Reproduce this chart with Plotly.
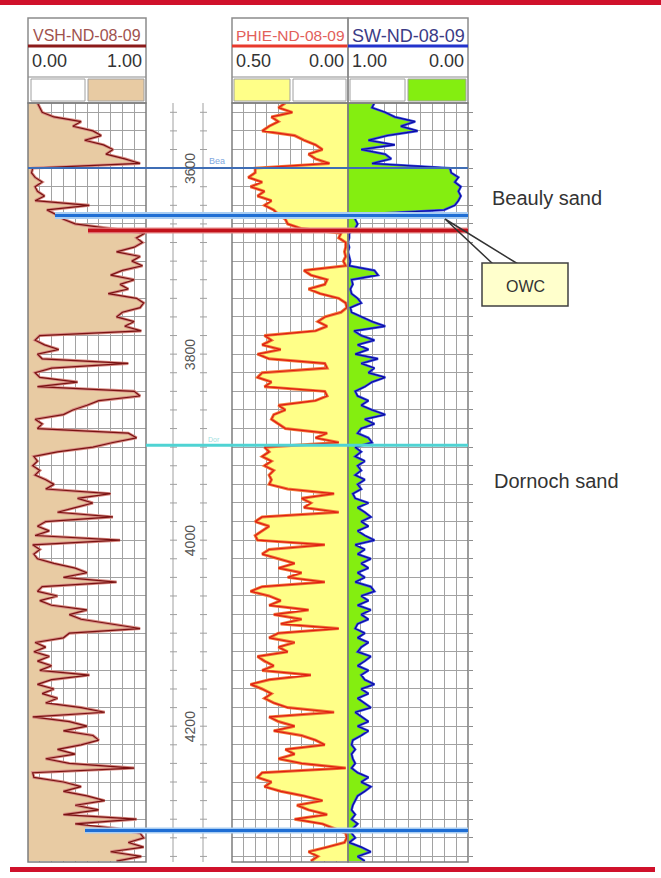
import plotly.graph_objects as go

W, H = 661, 878

# ---------------- data ----------------
depth_m = list(range(3530, 4346, 5))  # sample depths, 5 m step

vsh = [0.08, 0.10, 0.12, 0.22, 0.45, 0.38, 0.55, 0.62, 0.48, 0.64, 0.72, 0.66, 0.82, 0.95,
       0.04, 0.03, 0.06, 0.12, 0.06, 0.08, 0.14, 0.06, 0.52, 0.16, 0.24, 0.30, 0.40, 0.70, 0.99,
       0.92, 0.97, 0.90, 0.75, 0.95, 0.88, 0.97, 0.80, 0.70, 0.90, 0.78, 0.85, 0.68, 0.92, 0.98,
       0.95, 0.80, 0.75, 0.90, 0.82, 0.96,
       0.10, 0.06, 0.14, 0.26, 0.08, 0.12, 0.85, 0.20, 0.06, 0.10, 0.42, 0.08,
       0.90, 0.95, 0.60, 0.50, 0.38, 0.30, 0.06, 0.12, 0.08, 0.85, 0.92, 0.72, 0.55, 0.25,
       0.05, 0.08, 0.04, 0.10, 0.06, 0.15,
       0.22, 0.15, 0.70, 0.42, 0.55, 0.40, 0.25, 0.72, 0.15, 0.08, 0.18, 0.06, 0.78, 0.04,
       0.10, 0.05, 0.08, 0.22, 0.40, 0.50, 0.30, 0.75, 0.12, 0.08, 0.25, 0.10, 0.20, 0.50,
       0.35, 0.45, 0.70, 0.95, 0.35, 0.30, 0.06, 0.15, 0.05, 0.18, 0.08, 0.20, 0.10, 0.52,
       0.20, 0.08, 0.22, 0.12, 0.25, 0.15, 0.45, 0.65, 0.04, 0.35, 0.50, 0.30, 0.55, 0.60,
       0.45, 0.25, 0.40, 0.15, 0.35, 0.90, 0.04, 0.05, 0.30, 0.45, 0.30, 0.50, 0.65, 0.40,
       0.60, 0.30, 0.92, 0.40, 0.75, 0.95, 0.98, 0.85, 0.98, 0.70, 0.96, 0.75]

phie = [0.27, 0.30, 0.24, 0.33, 0.30, 0.34, 0.37, 0.23, 0.19, 0.14, 0.11, 0.17, 0.14, 0.08,
        0.40, 0.40, 0.43, 0.37, 0.42, 0.36, 0.39, 0.33, 0.36, 0.32, 0.30, 0.27, 0.26, 0.20, 0.03,
        0.04, 0.01, 0.01, 0.015, 0.01, 0.02, 0.01, 0.19, 0.16, 0.09, 0.10, 0.17, 0.12, 0.04,
        0.01, 0.005, 0.03, 0.10, 0.13, 0.09, 0.14,
        0.36, 0.33, 0.37, 0.29, 0.39, 0.34, 0.10, 0.09, 0.37, 0.39, 0.33, 0.36,
        0.10, 0.09, 0.14, 0.30, 0.27, 0.32, 0.33, 0.30, 0.27, 0.09, 0.14, 0.04, 0.36, 0.34,
        0.37, 0.33, 0.36, 0.32, 0.34, 0.33,
        0.34, 0.26, 0.06, 0.20, 0.16, 0.19, 0.04, 0.37, 0.40, 0.34, 0.37, 0.40, 0.39, 0.10,
        0.34, 0.37, 0.30, 0.23, 0.30, 0.20, 0.26, 0.10, 0.37, 0.42, 0.34, 0.29, 0.34, 0.17,
        0.32, 0.20, 0.29, 0.04, 0.30, 0.34, 0.23, 0.30, 0.26, 0.39, 0.36, 0.32, 0.37, 0.16,
        0.34, 0.42, 0.37, 0.33, 0.36, 0.32, 0.26, 0.06, 0.34, 0.30, 0.23, 0.32, 0.20, 0.14,
        0.10, 0.27, 0.23, 0.30, 0.20, 0.01, 0.37, 0.39, 0.33, 0.36, 0.29, 0.19, 0.11, 0.22,
        0.17, 0.09, 0.23, 0.11, 0.06, 0.01, 0.005, 0.015, 0.09, 0.17, 0.13, 0.16]

sw = [0.78, 0.80, 0.69, 0.61, 0.44, 0.56, 0.42, 0.67, 0.83, 0.61, 0.89, 0.69, 0.64, 0.80,
      0.15, 0.14, 0.08, 0.11, 0.06, 0.08, 0.06, 0.08, 0.11, 0.20, 0.92, 0.94, 0.92, 0.94, 0.99,
      0.99, 1.00, 0.99, 1.00, 0.99, 0.98, 0.99, 0.78, 0.75, 0.97, 0.96, 0.98, 0.97, 0.92,
      0.89, 0.98, 0.97, 0.89, 0.80, 0.69, 0.95,
      0.89, 0.78, 0.92, 0.83, 0.94, 0.75, 0.89, 0.78, 0.83, 0.69, 0.80, 0.86,
      0.94, 0.92, 0.83, 0.89, 0.80, 0.69, 0.86, 0.78, 0.89, 0.92, 0.83, 0.80, 0.94, 0.89,
      0.94, 0.86, 0.92, 0.89, 0.94, 0.86,
      0.92, 0.89, 0.96, 0.94, 0.83, 0.92, 0.86, 0.81, 0.89, 0.83, 0.92, 0.86, 0.78, 0.94,
      0.86, 0.92, 0.81, 0.89, 0.83, 0.92, 0.86, 0.94, 0.81, 0.78, 0.89, 0.83, 0.92, 0.81,
      0.89, 0.83, 0.92, 0.94, 0.86, 0.92, 0.83, 0.89, 0.92, 0.81, 0.86, 0.92, 0.83, 0.89,
      0.86, 0.78, 0.89, 0.83, 0.92, 0.86, 0.81, 0.94, 0.89, 0.83, 0.92, 0.83, 0.89, 0.96,
      0.97, 0.94, 0.97, 0.96, 0.94, 0.97, 0.92, 0.83, 0.89, 0.81, 0.86, 0.92, 0.94, 0.96,
      0.97, 0.94, 0.97, 0.92, 0.96, 0.97, 0.94, 0.99, 0.89, 0.81, 0.92, 0.86]

sw_full = [1.0] * len(depth_m)   # SW = 1 baseline for the green fill

top_depths = [3600, 3651, 3667, 3898, 4312]
depth_labels = [3600, 3800, 4000, 4200]

track_names = ["VSH-ND-08-09", "PHIE-ND-08-09", "SW-ND-08-09"]
scale_left = ["0.00", "0.50", "1.00"]
scale_right = ["1.00", "0.00", "0.00"]
zone_labels = ["Beauly sand", "Dornoch sand"]

# ---------------- helpers ----------------
def fx(x):
    return x / W

def fy(y):
    return 1 - y / H

TOP, BOT = 103, 862
TRACKS = [(28, 146), (232, 348), (348, 468)]
FONT = "Arial, Liberation Sans, sans-serif"
GRID = "#A2A2A2"

shapes = []
annotations = []

def rect(x0, y0, x1, y1, fill="rgba(0,0,0,0)", line=None, lw=1.0):
    shapes.append(dict(type="rect", xref="paper", yref="paper",
                       x0=fx(x0), x1=fx(x1), y0=fy(y1), y1=fy(y0),
                       fillcolor=fill,
                       line=dict(color=line if line else "rgba(0,0,0,0)", width=lw if line else 0)))

def pline(x0, y0, x1, y1, color, w):
    shapes.append(dict(type="line", xref="paper", yref="paper",
                       x0=fx(x0), x1=fx(x1), y0=fy(y0), y1=fy(y1),
                       line=dict(color=color, width=w)))

def dline(x0, x1, d, color, w):
    shapes.append(dict(type="line", xref="paper", yref="y",
                       x0=fx(x0), x1=fx(x1), y0=d, y1=d,
                       line=dict(color=color, width=w)))

def text(x, y, s, size, color, xanchor="center", yref="paper", angle=0):
    annotations.append(dict(x=fx(x), y=(fy(y) if yref == "paper" else y), xref="paper", yref=yref,
                            text=s, showarrow=False, xanchor=xanchor, yanchor="middle",
                            textangle=angle, font=dict(family=FONT, size=size, color=color)))

# red page bars
rect(0, 0, 661, 5, fill="#D0112B")
rect(10, 867, 655, 872, fill="#D0112B")

# headers
name_colors = ["#A0524E", "#E2605A", "#3B3B86"]
under_colors = ["#8B1A1A", "#E8392C", "#2233CC"]
name_sizes = [16, 15.5, 18]
for i, (xa, xb) in enumerate(TRACKS):
    rect(xa, 18, xb, TOP, line="#8C8C8C", lw=1.5)
    pline(xa, 77, xb, 77, "#8C8C8C", 1.2)
    pline(xa, 46, xb, 46, under_colors[i], 3)
    text((xa + xb) / 2, 36, track_names[i], name_sizes[i], name_colors[i])
    text(xa + 2, 61, scale_left[i], 18, "#333333", xanchor="left")
    text(xb - 2, 61, scale_right[i], 18, "#333333", xanchor="right")

TAN, YELLOW, GREEN = "#E8CBA3", "#FFFF88", "#84EE10"
rect(31, 79, 85, 101, fill="white", line="#A0A0A0")
rect(88, 79, 144, 101, fill=TAN, line="#A0A0A0")
rect(234, 79, 290, 101, fill=YELLOW, line="#A0A0A0")
rect(293, 79, 346, 101, fill="white", line="#A0A0A0")
rect(350, 79, 405, 101, fill="white", line="#A0A0A0")
rect(408, 79, 466, 101, fill=GREEN, line="#A0A0A0")

# track borders
for xa, xb in TRACKS:
    rect(xa, TOP, xb, BOT, line="#7E7E7E", lw=1.5)

# depth track
for xl in (173, 203):
    pline(xl, TOP, xl, BOT, "#A0A0A0", 1)
for d in range(3540, 4346, 20):
    dline(170, 177, d, "#A0A0A0", 1)
    dline(200, 207, d, "#A0A0A0", 1)
for d in depth_labels:
    text(190, d, str(d), 14, "#555555", yref="y", angle=-90)

# formation / contact lines
dline(28, 468, top_depths[0], "#3F6DB5", 2)
dline(55, 468, top_depths[1], "#A9CDF2", 7)
dline(55, 468, top_depths[1], "#1F6ED4", 3)
dline(88, 468, top_depths[2], "#E58A8A", 6)
dline(88, 468, top_depths[2], "#C3121B", 3.5)
dline(146, 468, top_depths[3], "#4FD3D3", 3)
dline(85, 468, top_depths[4], "#A9CDF2", 6)
dline(85, 468, top_depths[4], "#1F6ED4", 3)
text(217, 161, "Bea", 9, "#7FA8E0")
text(214, 439, "Dor", 7, "#9FE0E0")

# OWC callout
shapes.append(dict(type="path", xref="paper", yref="paper",
                   path=f"M {fx(493)} {fy(264)} L {fx(445)} {fy(219)} L {fx(518)} {fy(264)}",
                   line=dict(color="#333333", width=1.5)))
rect(482, 263, 568, 306, fill="#FFFFCC", line="#404040", lw=1.5)
text(525, 286, "OWC", 16, "#333333")

# zone labels
text(547, 198, zone_labels[0], 20, "#333333")
text(556, 481, zone_labels[1], 20, "#333333")

# ---------------- traces ----------------
fig = go.Figure()
# VSH
fig.add_trace(go.Scatter(x=vsh, y=depth_m, xaxis="x", yaxis="y", mode="lines",
                         fill="tozerox", fillcolor=TAN,
                         line=dict(color="#D88C84", width=3), hoverinfo="skip"))
fig.add_trace(go.Scatter(x=vsh, y=depth_m, xaxis="x", yaxis="y", mode="lines",
                         line=dict(color="#7A1212", width=1.2), hoverinfo="skip"))
# PHIE
fig.add_trace(go.Scatter(x=phie, y=depth_m, xaxis="x2", yaxis="y", mode="lines",
                         fill="tozerox", fillcolor=YELLOW,
                         line=dict(color="#F07A3A", width=3), hoverinfo="skip"))
fig.add_trace(go.Scatter(x=phie, y=depth_m, xaxis="x2", yaxis="y", mode="lines",
                         line=dict(color="#E01E12", width=1.2), hoverinfo="skip"))
# SW
fig.add_trace(go.Scatter(x=sw_full, y=depth_m, xaxis="x3", yaxis="y", mode="lines",
                         line=dict(color="rgba(0,0,0,0)", width=0), hoverinfo="skip"))
fig.add_trace(go.Scatter(x=sw, y=depth_m, xaxis="x3", yaxis="y", mode="lines",
                         fill="tonextx", fillcolor=GREEN,
                         line=dict(color="#3F4FE0", width=2.5), hoverinfo="skip"))
fig.add_trace(go.Scatter(x=sw, y=depth_m, xaxis="x3", yaxis="y", mode="lines",
                         line=dict(color="#0A0AA0", width=1.1), hoverinfo="skip"))

ax_common = dict(showticklabels=False, ticks="", zeroline=False, showline=False,
                 showgrid=True, gridcolor=GRID, gridwidth=1, fixedrange=True, anchor="y")

fig.update_layout(
    width=W, height=H, autosize=False,
    margin=dict(l=0, r=0, t=0, b=0),
    paper_bgcolor="white", plot_bgcolor="white",
    showlegend=False,
    font=dict(family=FONT),
    xaxis=dict(domain=[fx(28), fx(146)], range=[0, 1], dtick=0.1, tick0=0, **ax_common),
    xaxis2=dict(domain=[fx(232), fx(348)], range=[0.5, 0], dtick=0.05, tick0=0, **ax_common),
    xaxis3=dict(domain=[fx(348), fx(468)], range=[1, 0], dtick=0.1, tick0=0, **ax_common),
    yaxis=dict(domain=[fy(BOT), fy(TOP)], range=[4346, 3530], dtick=20, tick0=3600,
               anchor="x3", side="right", showticklabels=False, ticks="outside",
               ticklen=4, tickcolor="#8C8C8C", zeroline=False, showline=False,
               showgrid=True, gridcolor=GRID, gridwidth=1, fixedrange=True),
    shapes=shapes,
    annotations=annotations,
)

fig.write_html(
    "out.html",
    config={"displayModeBar": False, "staticPlot": True},
    post_script="document.body.style.margin='0';document.body.style.padding='0';"
                "document.documentElement.style.overflow='hidden';",
)
